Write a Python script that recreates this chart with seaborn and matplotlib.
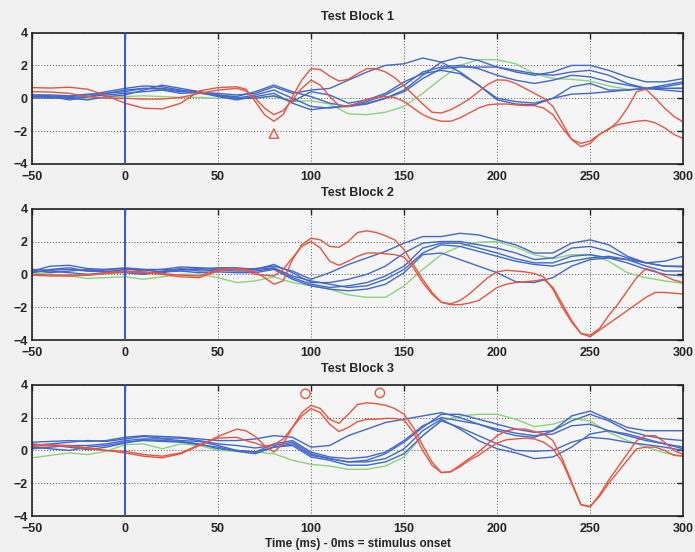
import pandas as pd
import matplotlib
matplotlib.use("Agg")
import matplotlib.pyplot as plt
import seaborn as sns

# time grids (ms): coarse grid for blue/green traces, finer grid for the red traces
T_SLOW = list(range(-50, 301, 10))
T_RED = list(range(-50, 60, 10)) + list(range(60, 301, 5))

# ---- Test Block 1 ----
b1_red_a = [0.65, 0.62, 0.67, 0.55, 0.15, -0.3, -0.6, -0.65, -0.3, 0.45, 0.65,
            0.7, 0.55, -0.2, -1.0, -1.4, -1.0, 0.1, 1.1, 1.8, 1.75, 1.35, 1.05, 1.15, 1.5, 1.8, 1.8, 1.6, 1.25,
            0.75, 0.2, -0.35, -0.85, -0.9, -0.7, -0.4, -0.05, 0.4, 0.85, 1.12, 1.1, 0.9, 0.6, 0.3, 0.0, -0.5,
            -1.5, -2.5, -2.95, -2.75, -2.2, -1.9, -1.4, -0.6, 0.4, 0.55, 0.0, -0.6, -1.1, -1.45]
b1_red_b = [0.4, 0.38, 0.3, 0.1, 0.0, 0.0, -0.05, -0.05, 0.05, 0.3, 0.5,
            0.6, 0.45, 0.0, -0.6, -1.0, -0.75, -0.1, 0.6, 1.1, 0.8, 0.1, -0.45, -0.5, -0.3, -0.05, 0.05, 0.1,
            0.05, -0.2, -0.6, -1.0, -1.25, -1.4, -1.4, -1.2, -0.9, -0.6, -0.4, -0.35, -0.35, -0.4, -0.45, -0.45,
            -0.6, -1.0, -1.8, -2.5, -2.75, -2.6, -2.2, -1.85, -1.6, -1.5, -1.4, -1.35, -1.5, -1.8, -2.2, -2.45]
b1_blue = [
    [0.2, 0.15, 0.05, 0.1, 0.3, 0.5, 0.6, 0.55, 0.4, 0.35, 0.3, 0.2, 0.3, 0.7, 0.3, 0.5, 0.6, 1.1, 1.6, 2.0,
     2.1, 2.45, 2.2, 1.6, 0.8, -0.1, -0.35, -0.4, 0.0, 0.25, 0.3, 0.4, 0.5, 0.6, 0.7, 0.9],
    [0.1, 0.0, 0.1, 0.2, 0.4, 0.6, 0.75, 0.7, 0.5, 0.3, 0.2, 0.1, 0.4, 0.8, 0.4, 0.1, -0.3, -0.5, -0.3, 0.0,
     0.5, 1.4, 2.2, 2.5, 2.3, 1.9, 1.6, 1.4, 1.6, 2.0, 2.0, 1.7, 1.3, 1.0, 1.0, 1.2],
    [0.2, 0.2, 0.15, 0.25, 0.3, 0.4, 0.6, 0.6, 0.45, 0.4, 0.2, 0.0, 0.2, 0.5, 0.0, -0.5, -0.6, -0.45, -0.2,
     0.2, 0.8, 1.6, 1.9, 2.0, 1.8, 1.4, 1.1, 0.9, 1.1, 1.4, 1.3, 1.0, 0.8, 0.6, 0.8, 1.0],
    [0.1, 0.1, -0.1, 0.1, 0.2, 0.3, 0.4, 0.5, 0.3, 0.35, 0.1, -0.1, 0.1, 0.3, -0.3, -0.7, -0.55, -0.5, -0.35,
     0.0, 0.4, 1.2, 1.8, 1.9, 1.9, 1.9, 1.7, 1.5, 1.4, 1.6, 1.7, 1.4, 0.9, 0.6, 0.5, 0.4],
    [0.0, 0.05, 0.0, -0.1, 0.1, 0.2, 0.5, 0.8, 0.6, 0.4, 0.15, 0.0, 0.0, 0.15, -0.2, 0.4, 0.2, -0.3, -0.1,
     0.3, 1.0, 1.5, 1.7, 1.5, 0.8, 0.0, -0.2, -0.3, 0.0, 0.7, 0.9, 0.5, 0.5, 0.6, 0.6, 0.6],
]
b1_green = [0.1, 0.05, 0.0, 0.0, 0.05, 0.1, 0.15, 0.1, 0.05, 0.05, 0.0, 0.0, 0.05, 0.1, -0.2, -0.15, -0.35,
            -0.95, -1.0, -0.85, -0.5, 0.3, 1.2, 2.0, 2.35, 2.35, 2.1, 1.5, 1.2, 1.15, 1.05, 0.75, 0.55, 0.55,
            0.6, 0.65]

# ---- Test Block 2 ----
b2_red_a = [0.0, -0.05, -0.05, -0.05, 0.05, 0.15, 0.1, 0.0, -0.15, -0.2, 0.2,
            0.35, 0.3, 0.15, -0.2, -0.6, -0.4, 0.9, 1.8, 2.2, 2.1, 1.7, 1.65, 2.0, 2.55, 2.65, 2.55, 2.35, 2.1,
            1.5, 0.6, -0.3, -1.1, -1.7, -1.8, -1.6, -1.2, -0.7, -0.2, 0.15, 0.25, 0.2, 0.15, 0.05, -0.15, -0.9,
            -2.0, -2.9, -3.6, -3.7, -3.3, -2.5, -1.8, -1.0, -0.2, 0.35, 0.2, -0.1, -0.35, -0.5]
b2_red_b = [-0.05, -0.1, -0.1, -0.05, 0.1, 0.2, 0.15, 0.05, -0.05, -0.1, 0.3,
            0.3, 0.25, 0.0, -0.05, -0.1, 0.3, 1.0, 1.7, 2.0, 1.6, 0.8, 0.55, 0.8, 1.1, 1.3, 1.3, 1.25, 1.2,
            1.05, 0.4, -0.5, -1.2, -1.7, -1.85, -1.85, -1.75, -1.6, -1.2, -0.8, -0.6, -0.5, -0.45, -0.4, -0.3,
            -0.8, -1.8, -2.8, -3.6, -3.8, -3.4, -3.0, -2.6, -2.2, -1.8, -1.4, -1.1, -1.1, -1.15, -1.2]
b2_blue = [
    [0.2, 0.5, 0.55, 0.35, 0.3, 0.35, 0.2, 0.3, 0.45, 0.4, 0.35, 0.3, 0.35, 0.5, 0.2, -0.3, 0.1, 0.6, 1.0,
     1.4, 1.9, 2.3, 2.3, 2.5, 2.4, 2.1, 1.8, 1.3, 1.3, 1.9, 2.1, 1.8, 1.1, 0.7, 0.8, 1.1],
    [0.1, 0.3, 0.4, 0.2, 0.15, 0.3, 0.3, 0.1, 0.3, 0.35, 0.3, 0.3, 0.3, 0.6, 0.1, -0.5, -0.5, -0.3, 0.0,
     0.5, 1.3, 1.9, 2.0, 2.0, 1.8, 1.6, 1.3, 0.9, 1.0, 1.6, 1.7, 1.4, 1.0, 0.7, 0.5, 0.45],
    [0.25, 0.1, 0.2, 0.3, 0.2, 0.2, 0.05, 0.2, 0.35, 0.2, 0.25, 0.2, 0.2, 0.35, -0.2, -0.6, -0.8, -0.7,
     -0.5, -0.1, 0.5, 1.6, 1.9, 1.9, 1.6, 1.3, 0.95, 0.7, 0.7, 1.1, 1.2, 1.0, 0.7, 0.3, 0.0, -0.1],
    [0.15, 0.2, 0.1, 0.0, 0.1, 0.1, 0.0, 0.15, 0.2, 0.1, 0.15, 0.1, 0.1, 0.3, -0.3, -0.7, -0.9, -1.0, -0.9,
     -0.6, 0.1, 1.2, 1.3, 0.9, 0.5, 0.1, -0.45, -0.5, -0.2, 0.5, 0.9, 1.0, 0.9, 0.7, 0.5, 0.5],
    [0.3, 0.25, 0.3, 0.2, 0.3, 0.4, 0.3, 0.3, 0.25, 0.3, 0.4, 0.4, 0.3, 0.4, -0.1, -0.4, -0.6, -0.8, -0.7,
     -0.3, 0.3, 1.3, 1.8, 1.7, 1.4, 1.1, 0.8, 0.6, 0.5, 0.8, 1.0, 1.1, 0.9, 0.5, 0.2, 0.2],
]
b2_green = [0.1, 0.0, -0.1, -0.25, -0.2, -0.15, -0.3, -0.15, 0.0, 0.0, -0.2, -0.5, -0.4, -0.15, -0.5,
            -0.7, -0.9, -1.25, -1.4, -1.4, -0.7, 0.3, 1.2, 1.7, 1.95, 2.0, 1.65, 1.2, 0.95, 1.2, 1.2, 0.8,
            0.1, -0.2, -0.4, -0.55]

# ---- Test Block 3 ----
b3_red_a = [0.35, 0.35, 0.3, 0.15, 0.0, -0.15, -0.35, -0.45, -0.2, 0.3, 0.85,
            1.3, 1.2, 0.85, 0.3, -0.1, 0.4, 1.4, 2.3, 2.75, 2.55, 1.9, 1.65, 2.2, 2.8, 2.9, 2.85, 2.75, 2.55,
            2.2, 1.4, 0.3, -0.7, -1.35, -1.3, -0.9, -0.5, -0.1, 0.4, 0.9, 1.2, 1.3, 1.3, 1.15, 1.0, 0.6, -0.5,
            -1.9, -3.3, -3.45, -2.7, -1.8, -1.0, -0.2, 0.6, 0.9, 0.9, 0.5, 0.0, -0.25]
b3_red_b = [0.25, 0.3, 0.25, 0.1, 0.0, -0.05, -0.25, -0.35, -0.15, 0.35, 0.75,
            0.8, 0.6, 0.45, 0.25, 0.35, 0.7, 1.4, 2.1, 2.55, 2.3, 1.6, 1.15, 1.4, 1.75, 1.9, 1.9, 1.95, 1.95,
            1.85, 1.1, 0.0, -0.9, -1.35, -1.3, -1.0, -0.6, -0.3, 0.1, 0.45, 0.65, 0.7, 0.75, 0.7, 0.5, 0.1,
            -0.7, -2.0, -3.3, -3.4, -2.8, -2.0, -1.3, -0.6, 0.1, 0.2, 0.2, 0.0, -0.3, -0.35]
b3_blue = [
    [0.5, 0.55, 0.6, 0.55, 0.6, 0.8, 0.9, 0.85, 0.8, 0.7, 0.6, 0.6, 0.7, 0.9, 0.8, 0.2, 0.3, 0.9, 1.3, 1.7,
     1.9, 2.1, 2.3, 2.0, 1.6, 1.2, 0.9, 0.8, 1.2, 2.1, 2.4, 1.9, 1.4, 1.2, 1.2, 1.2],
    [0.3, 0.4, 0.5, 0.6, 0.55, 0.7, 0.85, 0.75, 0.75, 0.6, 0.4, 0.3, 0.15, 0.3, 0.5, -0.2, -0.5, -0.7, -0.6,
     -0.2, 0.5, 1.4, 2.2, 2.2, 1.9, 1.6, 1.3, 1.1, 1.2, 1.8, 2.2, 1.8, 1.2, 0.9, 0.7, 0.6],
    [0.1, 0.2, 0.3, 0.3, 0.4, 0.6, 0.7, 0.7, 0.6, 0.55, 0.3, 0.0, -0.1, 0.4, 0.6, -0.1, -0.4, -0.5, -0.4,
     -0.1, 0.6, 1.5, 2.0, 1.8, 1.6, 1.3, 1.05, 0.9, 1.0, 1.5, 1.6, 1.2, 0.9, 0.6, 0.4, 0.2],
    [0.2, 0.1, 0.0, 0.2, 0.3, 0.5, 0.6, 0.55, 0.5, 0.35, 0.2, -0.05, -0.2, 0.2, 0.3, -0.4, -0.6, -0.9, -0.9,
     -0.7, -0.2, 0.9, 1.8, 1.4, 0.9, 0.4, 0.0, -0.05, 0.0, 0.5, 0.8, 0.7, 0.5, 0.35, 0.2, 0.0],
    [0.4, 0.3, 0.2, 0.05, 0.2, 0.45, 0.65, 0.6, 0.55, 0.4, 0.1, 0.0, -0.1, 0.2, 0.4, -0.3, -0.5, -0.7, -0.7,
     -0.5, 0.1, 1.2, 1.9, 1.3, 0.6, 0.1, -0.15, -0.5, -0.4, 0.2, 1.0, 1.2, 1.0, 0.7, 0.4, 0.1],
]
b3_green = [-0.45, -0.3, -0.15, -0.25, -0.05, 0.35, 0.4, 0.1, 0.4, 0.3, 0.0, -0.05, -0.1, -0.2, -0.6,
            -0.85, -0.95, -1.15, -1.15, -0.95, -0.4, 0.9, 1.8, 2.1, 2.2, 2.2, 1.9, 1.45, 1.6, 1.95, 1.8, 1.1,
            0.6, 0.2, -0.15, -0.35]

# open markers placed on the plots (ms, value)
b1_mark_x, b1_mark_y = [80], [-2.15]
b3_mark_x, b3_mark_y = [97, 137], [3.45, 3.5]

titles = ["Test Block 1", "Test Block 2", "Test Block 3"]

RED = "#e8553f"
BLUE = "#4268cc"
GREEN = "#8ad47c"
ONSET = "#3558d4"


def block_frame(reds, blues, green):
    rows = []
    for i, vals in enumerate(reds):
        assert len(vals) == len(T_RED)
        rows += [(t, v, f"red{i}") for t, v in zip(T_RED, vals)]
    for i, vals in enumerate(blues):
        assert len(vals) == len(T_SLOW)
        rows += [(t, v, f"blue{i}") for t, v in zip(T_SLOW, vals)]
    assert len(green) == len(T_SLOW)
    rows += [(t, v, "green") for t, v in zip(T_SLOW, green)]
    return pd.DataFrame(rows, columns=["time", "value", "trace"])


blocks = [
    block_frame([b1_red_a, b1_red_b], b1_blue, b1_green),
    block_frame([b2_red_a, b2_red_b], b2_blue, b2_green),
    block_frame([b3_red_a, b3_red_b], b3_blue, b3_green),
]

sns.set_style("white")
plt.rcParams["font.family"] = ["Liberation Sans", "DejaVu Sans"]
plt.rcParams["font.weight"] = "bold"

fig = plt.figure(figsize=(6.95, 5.52), dpi=100, facecolor="#f1f1f1")
bottoms = [0.703, 0.384, 0.065]
axes = [fig.add_axes([0.046, b, 0.937, 0.238]) for b in bottoms]

for idx, (ax, df) in enumerate(zip(axes, blocks)):
    ax.set_facecolor("#f5f5f5")
    traces = df["trace"].unique()
    # green first so it sits underneath, then blue, then red on top
    order = [t for t in traces if t == "green"] + [t for t in traces if t.startswith("blue")] + \
            [t for t in traces if t.startswith("red")]
    for tr in order:
        color = RED if tr.startswith("red") else (BLUE if tr.startswith("blue") else GREEN)
        sns.lineplot(data=df[df["trace"] == tr], x="time", y="value", color=color,
                     linewidth=1.0, ax=ax, estimator=None)
    ax.axvline(0, color=ONSET, linewidth=1.4, zorder=5)

    ax.set_xlim(-50, 300)
    ax.set_ylim(-4, 4)
    ax.set_xticks(range(-50, 301, 50))
    ax.set_yticks([-4, -2, 0, 2, 4])
    ax.grid(True, linestyle=(0, (1, 2)), color="#555555", linewidth=0.7)
    ax.tick_params(direction="in", top=True, right=True, length=4, width=1,
                   labelsize=9)
    ax.tick_params(axis="x", pad=5)
    ax.tick_params(axis="y", pad=3)
    for lab in ax.get_xticklabels() + ax.get_yticklabels():
        lab.set_fontweight("bold")
    for sp in ax.spines.values():
        sp.set_color("#222222")
        sp.set_linewidth(1.2)
    ax.set_title(titles[idx], fontsize=9, fontweight="bold", pad=9)
    ax.set_xlabel("")
    ax.set_ylabel("")

sns.scatterplot(x=b1_mark_x, y=b1_mark_y, marker="^", s=45, facecolor="none",
                edgecolor=RED, linewidth=1.0, ax=axes[0], zorder=6)
sns.scatterplot(x=b3_mark_x, y=b3_mark_y, marker="o", s=45, facecolor="none",
                edgecolor=RED, linewidth=1.0, ax=axes[2], zorder=6)

axes[2].set_xlabel("Time (ms) - 0ms = stimulus onset", fontsize=8.5, fontweight="bold",
                   labelpad=2)

fig.savefig("out.png", dpi=100, facecolor=fig.get_facecolor())
